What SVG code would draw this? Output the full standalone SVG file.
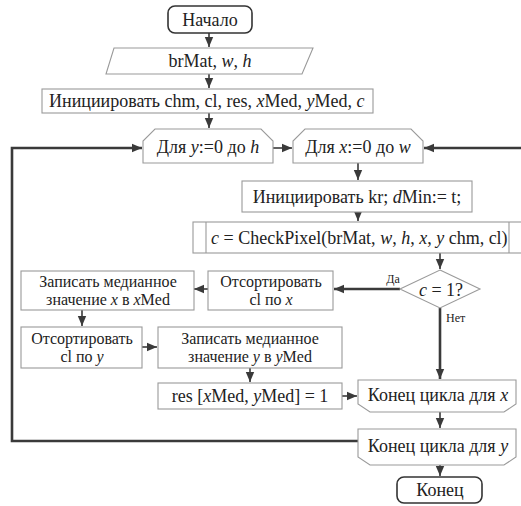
<svg xmlns="http://www.w3.org/2000/svg" width="521" height="506" viewBox="0 0 521 506" font-family="'Liberation Serif', 'DejaVu Serif', serif">
<defs>
<marker id="ah" markerUnits="userSpaceOnUse" markerWidth="10" markerHeight="10" viewBox="0 0 10 10" refX="10" refY="5" orient="auto">
<path d="M0,0.8 L10,5 L0,9.2 Z" fill="#3a3a3a"/>
</marker>
<style>
.box{fill:#fff;stroke:#9a9a9a;stroke-width:1.1}
.term{fill:#fff;stroke:#333;stroke-width:1.6}
text{font-family:'Liberation Serif','DejaVu Serif',serif}
.t{font-size:18px;fill:#222}
.m{font-size:16px;fill:#222}
.s{font-size:12px;fill:#222}
.i{font-style:italic}
.c{fill:none;stroke:#3a3a3a;stroke-width:1.6;marker-end:url(#ah)}
.k{fill:none;stroke:#3a3a3a;stroke-width:2.6;marker-end:url(#ah)}
</style>
</defs>
<g id="connectors">
<path class="c" d="M209,33 V47"/>
<path class="c" d="M209,74 V88"/>
<path class="c" d="M209,113 V128"/>
<path class="c" d="M273,148 H292"/>
<path class="k" d="M521,148 H424"/>
<path class="k" d="M358,441 H12 V148 H142"/>
<path class="c" d="M358,163 V180"/>
<path class="c" d="M358,212 V221"/>
<path class="c" d="M440,253 V269"/>
<path class="k" d="M400,289 H334"/>
<path class="c" d="M208,289 H194"/>
<path class="c" d="M82,310 V326"/>
<path class="c" d="M142,347 H157"/>
<path class="c" d="M250,368 V382"/>
<path class="c" d="M342,396 H357"/>
<path class="k" d="M440,308 V379"/>
<path class="c" d="M440,412 V428"/>
<path class="c" d="M440,465 V476"/>
</g>
<g id="start">
<rect class="term" x="168" y="6" width="84" height="27" rx="7"/>
<text class="t" x="210" y="25.5" text-anchor="middle">Начало</text>
</g>
<g id="input">
<polygon class="box" points="114,48 313,48 302,74 106,74"/>
<text class="t" x="210" y="67" text-anchor="middle">brMat, <tspan class="i">w</tspan>, <tspan class="i">h</tspan></text>
</g>
<g id="init">
<rect class="box" x="42" y="89" width="331" height="24"/>
<text class="t" x="49" y="107">Инициировать chm, cl, res, <tspan class="i">x</tspan>Med, <tspan class="i">y</tspan>Med, <tspan class="i">c</tspan></text>
</g>
<g id="loopY">
<polygon class="box" points="155,129 261,129 273,141 273,163 143,163 143,141"/>
<text class="t" x="208" y="153" text-anchor="middle">Для <tspan class="i">y</tspan>:=0 до <tspan class="i">h</tspan></text>
</g>
<g id="loopX">
<polygon class="box" points="305,129 411,129 423,141 423,163 293,163 293,141"/>
<text class="t" x="358" y="153" text-anchor="middle">Для <tspan class="i">x</tspan>:=0 до <tspan class="i">w</tspan></text>
</g>
<g id="initKr">
<rect class="box" x="242" y="181" width="230" height="31"/>
<text class="t" x="357" y="202.5" text-anchor="middle">Инициировать kr; <tspan class="i">d</tspan>Min:= t;</text>
</g>
<g id="checkPixel">
<rect class="box" x="193" y="222" width="331" height="31"/>
<line class="box" x1="206" y1="222" x2="206" y2="253"/>
<line class="box" x1="509" y1="222" x2="509" y2="253"/>
<text class="t" x="211" y="243.5"><tspan class="i">c</tspan> = CheckPixel(brMat, <tspan class="i">w</tspan>, <tspan class="i">h</tspan>, <tspan class="i">x</tspan>, <tspan class="i">y</tspan> chm, cl)</text>
</g>
<g id="decision">
<polygon class="box" points="440,270 480,289 440,308 400,289"/>
<text class="t" x="441" y="295.5" text-anchor="middle"><tspan class="i">c</tspan> = 1?</text>
<text class="s" x="393" y="283" text-anchor="middle">Да</text>
<text class="s" x="446" y="322">Нет</text>
</g>
<g id="sortX">
<rect class="box" x="208" y="271" width="125" height="39"/>
<text class="m" x="271" y="286.5" text-anchor="middle">Отсортировать</text>
<text class="m" x="271" y="304.5" text-anchor="middle">cl по <tspan class="i">x</tspan></text>
</g>
<g id="medX">
<rect class="box" x="21" y="271" width="173" height="39"/>
<text class="m" x="108" y="286.5" text-anchor="middle">Записать медианное</text>
<text class="m" x="108" y="304.5" text-anchor="middle">значение <tspan class="i">x</tspan> в <tspan class="i">x</tspan>Med</text>
</g>
<g id="sortY">
<rect class="box" x="21" y="327" width="121" height="41"/>
<text class="m" x="82" y="343.5" text-anchor="middle">Отсортировать</text>
<text class="m" x="82" y="361.5" text-anchor="middle">cl по <tspan class="i">y</tspan></text>
</g>
<g id="medY">
<rect class="box" x="158" y="327" width="184" height="41"/>
<text class="m" x="250" y="343.5" text-anchor="middle">Записать медианное</text>
<text class="m" x="250" y="361.5" text-anchor="middle">значение <tspan class="i">y</tspan> в <tspan class="i">y</tspan>Med</text>
</g>
<g id="res">
<rect class="box" x="158" y="383" width="184" height="26"/>
<text class="t" x="250" y="402" text-anchor="middle">res [<tspan class="i">x</tspan>Med, <tspan class="i">y</tspan>Med] = 1</text>
</g>
<g id="endX">
<polygon class="box" points="358,380 516,380 516,404 504,412 370,412 358,404"/>
<text class="t" x="438" y="401" text-anchor="middle">Конец цикла для <tspan class="i">x</tspan></text>
</g>
<g id="endY">
<polygon class="box" points="358,429 516,429 516,457 504,465 370,465 358,457"/>
<text class="t" x="438" y="452" text-anchor="middle">Конец цикла для <tspan class="i">y</tspan></text>
</g>
<g id="end">
<rect class="term" x="397" y="477" width="85" height="26" rx="7"/>
<text class="t" x="440" y="495.5" text-anchor="middle">Конец</text>
</g>
</svg>
